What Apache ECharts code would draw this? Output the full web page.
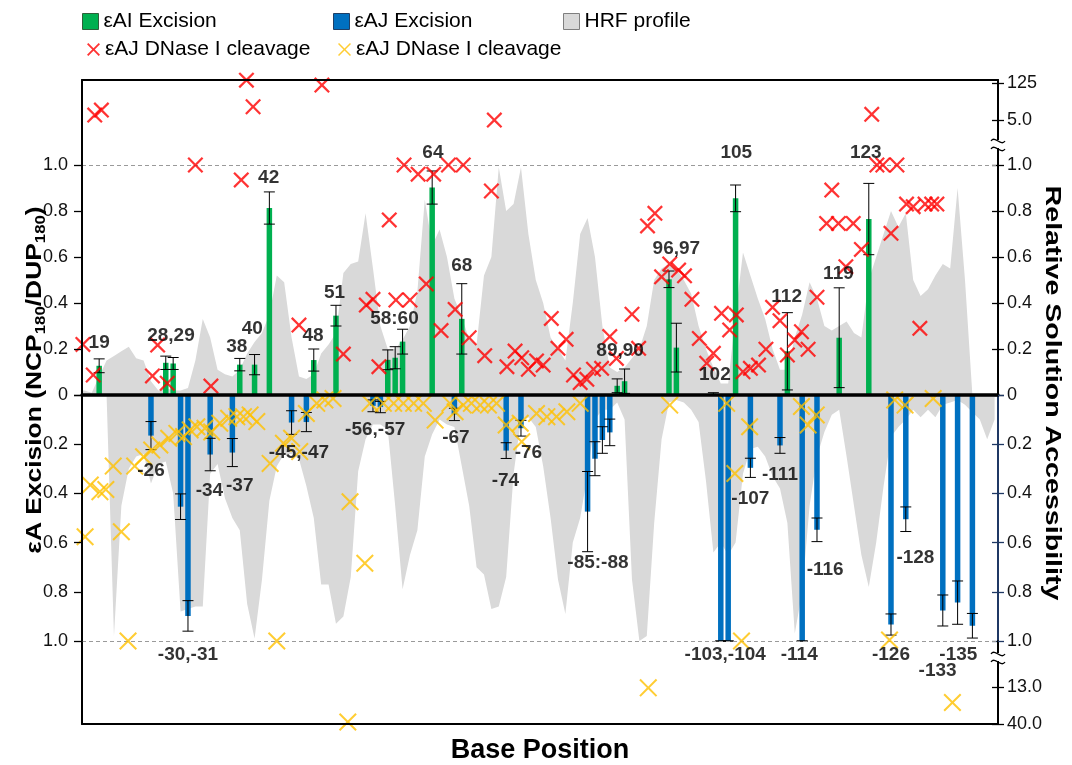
<!DOCTYPE html>
<html>
<head>
<meta charset="utf-8">
<script src="https://cdn.jsdelivr.net/npm/echarts@6/dist/echarts.min.js"></script>
<style>
  html, body { margin: 0; padding: 0; background: #fff; }
  #chart { width: 1072px; height: 765px; }
</style>
</head>
<body>
<div id="chart"></div>
<script>
// ---- εAI excision (upper strand, bars pointing up) ----
const aiPos = [19, 28, 29, 38, 40, 42, 48, 51, 58, 59, 60, 64, 68, 89, 90, 96, 97, 102, 105, 112, 119, 123];
const aiVal = [0.127, 0.14, 0.137, 0.132, 0.132, 0.813, 0.152, 0.345, 0.153, 0.162, 0.232, 0.902, 0.331, 0.04, 0.06, 0.503, 0.206, 0.006, 0.855, 0.19, 0.249, 0.765];
const aiErr = [0.03, 0.029, 0.026, 0.027, 0.044, 0.07, 0.048, 0.045, 0.043, 0.048, 0.054, 0.072, 0.153, 0.03, 0.053, 0.036, 0.106, 0.004, 0.058, 0.168, 0.217, 0.155];

// ---- εAJ excision (lower strand, bars pointing down) ----
const ajPos = [26, 30, 31, 34, 37, 45, 47, 56, 57, 67, 74, 76, 85, 86, 87, 88, 103, 104, 107, 111, 114, 116, 126, 128, 133, 135, 137];
const ajVal = [0.165, 0.454, 0.898, 0.242, 0.234, 0.112, 0.11, 0.044, 0.049, 0.079, 0.226, 0.135, 0.474, 0.259, 0.183, 0.152, 1.0, 1.0, 0.296, 0.205, 1.0, 0.548, 0.933, 0.505, 0.876, 0.844, 0.938];
const ajErr = [0.057, 0.052, 0.062, 0.066, 0.057, 0.048, 0.039, 0.024, 0.023, 0.025, 0.032, 0.032, 0.163, 0.069, 0.054, 0.054, 0, 0, 0.039, 0.032, 0, 0.048, 0.043, 0.05, 0.063, 0.088, 0.05];

// ---- HRF relative solution accessibility, positions 16..140 ----
const hrfStart = 16;
const hrfTop = [
  0.02, 0.02, 0.01, 0.08, 0.15, 0.17, 0.19, 0.21, 0.16, 0.15,
  0.06, 0.02, 0.03, 0.02, 0.02, 0.03, 0.15, 0.33, 0.25, 0.11,
  0.09, 0.08, 0.11, 0.18, 0.23, 0.27, 0.35, 0.52, 0.49, 0.25,
  0.08, 0.07, 0.09, 0.18, 0.22, 0.27, 0.53, 0.57, 0.58, 0.79,
  0.55, 0.3, 0.2, 0.2, 0.24, 0.3, 0.45, 0.85, 0.65, 0.72,
  0.6, 0.42, 0.34, 0.24, 0.22, 0.52, 0.6, 0.99, 0.8, 0.83,
  0.99, 0.7, 0.5, 0.4, 0.25, 0.2, 0.15, 0.4, 0.7, 0.77,
  0.6, 0.3, 0.12, 0.1, 0.12, 0.16, 0.2, 0.3, 0.5, 0.55,
  0.57, 0.55, 0.5, 0.44, 0.3, 0.2, 0.12, 0.05, 0.05, 0.35,
  0.62, 0.52, 0.42, 0.33, 0.2, 0.11, 0.11, 0.25, 0.35, 0.49,
  0.42, 0.3, 0.28, 0.3, 0.32, 0.27, 0.25, 0.5, 0.6, 0.7,
  0.8, 0.73, 0.79, 0.5, 0.43, 0.46, 0.52, 0.57, 0.55, 0.9,
  0.5, 0, 0, 0, 0
];
const hrfBottom = [
  0, 0, 0, 0, 0, 0.98, 0.45, 0.3, 0.25, 0.24,
  0.36, 0.28, 0.27, 0.4, 0.88, 0.87, 0.86, 0.86, 0.32, 0.28,
  0.42, 0.5, 0.55, 0.85, 0.99, 0.75, 0.43, 0.29, 0.24, 0.24,
  0.26, 0.37, 0.5, 0.77, 0.77, 0.93, 0.9, 0.74, 0.31, 0.18,
  0.12, 0.12, 0.14, 0.45, 0.79, 0.65, 0.55, 0.25, 0.16, 0.1,
  0.12, 0.13, 0.29, 0.45, 0.7, 0.73, 0.87, 0.86, 0.74, 0.32,
  0.1, 0.09, 0.13, 0.29, 0.5, 0.75, 0.89, 0.6, 0.5, 0.32,
  0.1, 0.06, 0.06, 0.03, 0.1, 0.75, 1.0, 0.98, 0.52, 0.18,
  0.03, 0.02, 0.03, 0.06, 0.11, 0.35, 0.64, 0.6, 0.65, 0.6,
  0.32, 0.22, 0.21, 0.25, 0.33, 0.38, 0.52, 0.97, 0.8, 0.45,
  0.25, 0.15, 0.08, 0.06, 0.25, 0.45, 0.65, 0.78, 0.6, 0.37,
  0.17, 0.13, 0.1, 0.06, 0.09, 0.06, 0.09, 0.04, 0.03, 0.02,
  0.04, 0.07, 0.1, 0.18, 0.1
];

// ---- DNase I cleavage, upper strand (red) ----
const redPos = [16.8, 18.2, 26.2, 26.9, 28.2, 32.0, 34.1, 38.2, 46.0, 52.0, 55.1, 56.0, 56.8, 58.2, 59.1, 60.2, 61.0, 62.1, 63.2, 64.2,
  65.2, 66.2, 67.1, 68.2, 69.0, 71.1, 72.0, 74.1, 75.2, 76.1, 77.0, 78.1, 79.0, 80.1, 81.0, 82.1, 83.1, 84.0, 84.9, 85.8,
  86.9, 88.0, 88.9, 91.0, 91.9, 93.1, 94.1, 95.0, 96.1, 97.3, 98.1, 99.1, 100.1, 101.1, 102.0, 103.1, 104.2, 105.1, 106.0, 107.0,
  108.1, 109.1, 110.0, 111.0, 112.0, 113.0, 113.9, 114.8, 116.0, 117.3, 118.0, 118.9, 119.9, 120.9, 122.0, 124.1, 124.9, 126.0, 126.8, 128.1,
  129.0, 129.9, 130.6, 131.5, 132.2];
const redVal = [0.22, 0.087, 0.083, 0.217, 0.051, 1.0, 0.039, 0.935, 0.304, 0.178, 0.391, 0.416, 0.123, 0.761, 0.413, 1.0, 0.413, 0.96, 0.483, 0.96,
  0.28, 1.0, 0.372, 1.0, 0.249, 0.171, 0.887, 0.123, 0.191, 0.162, 0.112, 0.148, 0.13, 0.333, 0.203, 0.242, 0.087, 0.054, 0.068, 0.112,
  0.116, 0.254, 0.159, 0.351, 0.203, 0.735, 0.79, 0.514, 0.57, 0.543, 0.518, 0.416, 0.246, 0.138, 0.181, 0.355, 0.283, 0.348, 0.101, 0.116,
  0.13, 0.199, 0.381, 0.323, 0.174, 0.239, 0.275, 0.199, 0.425, 0.746, 0.891, 0.746, 0.558, 0.746, 0.633, 1.0, 1.0, 0.703, 1.0, 0.83,
  0.819, 0.29, 0.83, 0.83, 0.83];
// values beyond the axis break (5.0 .. 125)
const redHighPos = [18.4, 19.3, 38.9, 39.8, 49.1, 72.4, 123.4];
const redHighVal = [7.7, 11.9, 160, 15.9, 105, 5.0, 8.2];

// ---- DNase I cleavage, lower strand (yellow) ----
const yelPos = [17.1, 17.8, 19.1, 19.9, 20.9, 22.0, 22.9, 23.8, 25.0, 26.1, 27.2, 28.4, 29.5, 30.4, 31.3, 32.2, 33.3, 34.2, 35.3, 36.5,
  37.6, 38.5, 39.4, 40.3, 42.1, 43.0, 43.9, 45.0, 46.1, 47.0, 48.4, 49.5, 50.6, 52.9, 54.9, 55.6, 57.4, 58.8, 60.1, 61.5,
  62.8, 64.4, 66.4, 67.1, 68.2, 69.3, 70.5, 71.6, 72.7, 74.0, 75.9, 76.1, 78.1, 79.5, 80.8, 82.2, 84.0, 96.1, 103.8, 104.9,
  105.8, 106.9, 113.9, 114.8, 115.9, 125.8, 126.5, 127.9, 131.7];
const yelVal = [0.576, 0.366, 0.393, 0.384, 0.289, 0.556, 1.0, 0.289, 0.251, 0.224, 0.203, 0.176, 0.156, 0.169, 0.142, 0.129, 0.135, 0.15, 0.115, 0.095,
  0.088, 0.088, 0.081, 0.108, 0.278, 1.0, 0.196, 0.176, 0.23, 0.075, 0.034, 0.02, 0.014, 0.434, 0.684, 0.034, 0.034, 0.034, 0.034, 0.034,
  0.034, 0.102, 0.034, 0.068, 0.041, 0.034, 0.041, 0.041, 0.034, 0.122, 0.115, 0.19, 0.075, 0.088, 0.088, 0.068, 0.034, 0.041, 0.034, 0.319,
  1.0, 0.129, 0.047, 0.122, 0.081, 0.996, 0.02, 0.041, 0.014];
// values beyond the lower axis break (13.0 .. 40.0)
const yelLowPos = [52.6, 93.2, 134.3];
const yelLowVal = [37.7, 13.4, 20.9];

// ---- base-position annotations ----
const topLabelText = ['19', '28,29', '38', '40', '42', '48', '51', '58:60', '64', '68', '89,90', '96,97', '102', '105', '112', '119', '123'];
const topLabelPos = [19.0, 28.7, 37.6, 39.7, 41.9, 47.9, 50.8, 58.9, 64.1, 68.0, 89.4, 97.0, 102.2, 105.1, 111.9, 118.9, 122.6];
const topLabelVal = [0.226, 0.257, 0.21, 0.29, 0.945, 0.257, 0.446, 0.333, 1.052, 0.562, 0.191, 0.635, 0.087, 1.054, 0.428, 0.529, 1.054];
const botLabelText = ['-26', '-30,-31', '-34', '-37', '-45,-47', '-56,-57', '-67', '-74', '-76', '-85:-88', '-103,-104', '-107', '-111', '-114', '-116', '-126', '-128', '-133', '-135'];
const botLabelPos = [26.0, 31.0, 33.9, 38.0, 46.0, 56.3, 67.2, 73.9, 77.0, 86.4, 103.6, 107.0, 111.0, 113.6, 117.1, 126.0, 129.3, 132.3, 135.1];
const botLabelVal = [0.309, 1.054, 0.389, 0.37, 0.233, 0.14, 0.173, 0.348, 0.234, 0.682, 1.054, 0.42, 0.325, 1.054, 0.711, 1.054, 0.661, 1.122, 1.054];

// ---- styling ----
const GREEN = '#00B050', BLUE = '#0070C0', GRAY = '#D9D9D9', RED = '#FF0000', YELLOW = '#FFC000';
const FONT = 'Arial, "Liberation Sans", sans-serif';
const X_RED = 'path://M0,1L1,0L5,4L9,0L10,1L6,5L10,9L9,10L5,6L1,10L0,9L4,5Z';
const X_YEL = 'path://M0,0.8L0.8,0L5,4.2L9.2,0L10,0.8L5.8,5L10,9.2L9.2,10L5,5.8L0.8,10L0,9.2L4.2,5Z';
const X_MIN = 16.68, X_MAX = 140.46;
const NAVY = '#1F3864';

const zip = (xs, ys) => xs.map((x, i) => [x, ys[i]]);
const hrfSeries = arr => arr.map((v, i) => [hrfStart + i, v]);
const errData = (p, v, e) => p.map((x, i) => [x, v[i] - e[i], v[i] + e[i]]);
const labelData = (t, p, v) => t.map((s, i) => ({ name: s, value: [p[i], v[i]] }));

// vertical error bar with caps, drawn in data coordinates
function errorBar(params, api) {
  const n = api.value(0);
  const a = api.coord([n, api.value(1)]);
  const b = api.coord([n, api.value(2)]);
  const hw = 5.5;
  const st = { stroke: '#000', lineWidth: 1 };
  return {
    type: 'group',
    children: [
      { type: 'line', shape: { x1: a[0], y1: a[1], x2: b[0], y2: b[1] }, style: st },
      { type: 'line', shape: { x1: a[0] - hw, y1: a[1], x2: a[0] + hw, y2: a[1] }, style: st },
      { type: 'line', shape: { x1: b[0] - hw, y1: b[1], x2: b[0] + hw, y2: b[1] }, style: st }
    ]
  };
}

const tickLbl = v => (v === 0 ? '0' : v.toFixed(1));
const labelStyle = { fontSize: 18, color: '#111', fontFamily: FONT };
const blackLine = { color: '#000', width: 2 };

function xAx(grid, extra) {
  return Object.assign({
    type: 'value', gridIndex: grid, min: X_MIN, max: X_MAX,
    axisLabel: { show: false }, axisTick: { show: false }, splitLine: { show: false },
    axisLine: { show: false }
  }, extra);
}
function plainY(grid, extra) {
  return Object.assign({
    gridIndex: grid, splitLine: { show: false }, axisTick: { show: false },
    axisLabel: { show: false }, axisLine: { show: false }
  }, extra);
}

const chart = echarts.init(document.getElementById('chart'), null, { renderer: 'canvas' });

const legendBase = {
  orient: 'horizontal', selectedMode: false, itemWidth: 16, itemHeight: 16,
  textStyle: { fontSize: 21, color: '#000', fontFamily: FONT }
};

// right-axis break marks
function breakMark(yc) {
  const st = { stroke: '#000', lineWidth: 1.3, fill: null };
  return [
    { type: 'rect', z: 100, shape: { x: 993, y: yc - 4, width: 10, height: 8 }, style: { fill: '#fff' } },
    { type: 'bezierCurve', z: 101, shape: { x1: 991, y1: yc - 3, cpx1: 995, cpy1: yc - 9, cpx2: 1001, cpy2: yc + 3, x2: 1005, y2: yc - 3 }, style: st },
    { type: 'bezierCurve', z: 101, shape: { x1: 991, y1: yc + 5, cpx1: 995, cpy1: yc - 1, cpx2: 1001, cpy2: yc + 11, x2: 1005, y2: yc + 5 }, style: st }
  ];
}

const annotLabel = {
  show: true, position: 'inside', formatter: '{b}', fontSize: 19, fontWeight: 'bold',
  color: '#000', textBorderWidth: 0, fontFamily: FONT
};

const option = {
  animation: false,
  backgroundColor: '#fff',
  textStyle: { fontFamily: FONT },
  legend: [
    Object.assign({}, legendBase, { left: 77, top: 6, data: [{ name: 'εAI Excision', icon: 'rect', itemStyle: { color: GREEN, borderColor: '#2F5F3A', borderWidth: 1 } }] }),
    Object.assign({}, legendBase, { left: 328, top: 6, data: [{ name: 'εAJ Excision', icon: 'rect', itemStyle: { color: BLUE, borderColor: '#1F3F66', borderWidth: 1 } }] }),
    Object.assign({}, legendBase, { left: 558, top: 6, data: [{ name: 'HRF profile', icon: 'rect', itemStyle: { color: GRAY, borderColor: '#7F7F7F', borderWidth: 1 } }] }),
    Object.assign({}, legendBase, { left: 82, top: 34, itemWidth: 13, itemHeight: 13, data: [{ name: 'εAJ DNase I cleavage', icon: X_RED, itemStyle: { color: RED } }] }),
    Object.assign({}, legendBase, { left: 333, top: 34, itemWidth: 13, itemHeight: 13, data: [{ name: 'εAJ DNase I cleavage', icon: X_YEL, itemStyle: { color: YELLOW } }] })
  ],
  grid: [
    { left: 82, right: 74, top: 80, height: 85 },
    { left: 82, right: 74, top: 165, height: 230 },
    { left: 82, right: 74, top: 395, height: 246 },
    { left: 82, right: 74, top: 641, height: 86 }
  ],
  xAxis: [
    xAx(0, { position: 'top', z: 10, axisLine: { show: true, onZero: false, lineStyle: blackLine } }),
    xAx(1, { position: 'bottom', z: 10, axisLine: { show: true, onZero: false, lineStyle: { color: '#000', width: 3.5 } } }),
    xAx(2, {}),
    xAx(3, {
      position: 'bottom', z: 10, axisLine: { show: true, onZero: false, lineStyle: blackLine },
      name: 'Base Position', nameLocation: 'middle', nameGap: 13,
      nameTextStyle: { fontSize: 27, fontWeight: 'bold', color: '#000', fontFamily: FONT, verticalAlign: 'top' }
    })
  ],
  yAxis: [
    // 0: upper break, left frame
    plainY(0, { type: 'log', min: 0.1, max: 163, position: 'left', axisLine: { show: true, lineStyle: blackLine } }),
    // 1: upper break, right scale
    plainY(0, {
      type: 'log', min: 0.1, max: 163, position: 'right', z: 10,
      axisLine: { show: true, lineStyle: blackLine },
      axisTick: { show: true, length: 6, customValues: [5, 125], lineStyle: { color: '#000', width: 1.3 } },
      axisLabel: { show: true, customValues: [5, 125], margin: 9, formatter: v => (v >= 100 ? String(Math.round(v)) : v.toFixed(1)), ...labelStyle }
    }),
    // 2: upper main, left scale
    plainY(1, {
      type: 'value', min: 0, max: 1, interval: 0.2, position: 'left', z: 10,
      axisLine: { show: true, lineStyle: blackLine },
      axisTick: { show: true, length: 8, lineStyle: { color: '#000', width: 1.3 } },
      axisLabel: { show: true, margin: 14, formatter: tickLbl, ...labelStyle }
    }),
    // 3: upper main, right scale
    plainY(1, {
      type: 'value', min: 0, max: 1, interval: 0.2, position: 'right', z: 10,
      axisLine: { show: true, lineStyle: blackLine },
      axisTick: { show: true, length: 6, lineStyle: { color: '#000', width: 1.3 } },
      axisLabel: { show: true, margin: 9, formatter: tickLbl, ...labelStyle }
    }),
    // 4: lower main, left scale
    plainY(2, {
      type: 'value', min: 0, max: 1, interval: 0.2, inverse: true, position: 'left', z: 10,
      axisLine: { show: true, lineStyle: blackLine },
      axisTick: { show: true, length: 8, lineStyle: { color: '#000', width: 1.3 } },
      axisLabel: { show: true, margin: 14, formatter: v => (v === 0 ? '' : tickLbl(v)), ...labelStyle }
    }),
    // 5: lower main, right scale
    plainY(2, {
      type: 'value', min: 0, max: 1, interval: 0.2, inverse: true, position: 'right', z: 10,
      axisLine: { show: true, lineStyle: { color: NAVY, width: 2 } },
      axisTick: { show: true, length: 6, lineStyle: { color: NAVY, width: 1.3 } },
      axisLabel: { show: true, margin: 9, formatter: v => (v === 0 ? '' : tickLbl(v)), ...labelStyle }
    }),
    // 6: lower break, left frame
    plainY(3, { type: 'log', min: 3.244, max: 40, inverse: true, position: 'left', axisLine: { show: true, lineStyle: blackLine } }),
    // 7: lower break, right scale
    plainY(3, {
      type: 'log', min: 3.244, max: 40, inverse: true, position: 'right', z: 10,
      axisLine: { show: true, lineStyle: blackLine },
      axisTick: { show: true, length: 6, customValues: [13, 40], lineStyle: { color: '#000', width: 1.3 } },
      axisLabel: { show: true, customValues: [13, 40], margin: 9, formatter: v => v.toFixed(1), ...labelStyle }
    }),
    // 8-11: inner halves of the right-hand ticks
    plainY(0, { type: 'log', min: 0.1, max: 163, position: 'right', axisTick: { show: true, inside: true, length: 6, customValues: [5, 125], lineStyle: { color: '#000', width: 1.3 } } }),
    plainY(1, { type: 'value', min: 0, max: 1, interval: 0.2, position: 'right', axisTick: { show: true, inside: true, length: 6, lineStyle: { color: '#000', width: 1.3 } } }),
    plainY(2, { type: 'value', min: 0, max: 1, interval: 0.2, inverse: true, position: 'right', axisTick: { show: true, inside: true, length: 6, lineStyle: { color: NAVY, width: 1.3 } } }),
    plainY(3, { type: 'log', min: 3.244, max: 40, inverse: true, position: 'right', axisTick: { show: true, inside: true, length: 6, customValues: [13, 40], lineStyle: { color: '#000', width: 1.3 } } })
  ],
  series: [
    {
      name: 'HRF profile', type: 'line', xAxisIndex: 1, yAxisIndex: 3, z: 1,
      data: hrfSeries(hrfTop), symbol: 'none', silent: true,
      lineStyle: { width: 0 }, areaStyle: { color: GRAY, opacity: 1 }, itemStyle: { color: GRAY },
      markLine: { silent: true, symbol: 'none', label: { show: false }, lineStyle: { color: '#9A9A9A', type: [4, 3], width: 1 }, data: [{ yAxis: 1 }] }
    },
    {
      name: 'HRF profile', type: 'line', xAxisIndex: 2, yAxisIndex: 5, z: 1,
      data: hrfSeries(hrfBottom), symbol: 'none', silent: true,
      lineStyle: { width: 0 }, areaStyle: { color: GRAY, opacity: 1 }, itemStyle: { color: GRAY },
      markLine: { silent: true, symbol: 'none', label: { show: false }, lineStyle: { color: '#9A9A9A', type: [4, 3], width: 1 }, data: [{ yAxis: 1 }] }
    },
    {
      name: 'εAI Excision', type: 'bar', xAxisIndex: 1, yAxisIndex: 2, z: 3,
      barWidth: 5.5, data: zip(aiPos, aiVal), itemStyle: { color: GREEN }
    },
    {
      name: 'εAJ Excision', type: 'bar', xAxisIndex: 2, yAxisIndex: 4, z: 3,
      barWidth: 5.5, data: zip(ajPos, ajVal), itemStyle: { color: BLUE }
    },
    {
      type: 'custom', xAxisIndex: 1, yAxisIndex: 2, z: 4, silent: true, clip: false,
      renderItem: errorBar, encode: { x: 0, y: [1, 2] }, data: errData(aiPos, aiVal, aiErr)
    },
    {
      type: 'custom', xAxisIndex: 2, yAxisIndex: 4, z: 4, silent: true, clip: false,
      renderItem: errorBar, encode: { x: 0, y: [1, 2] }, data: errData(ajPos, ajVal, ajErr)
    },
    {
      name: 'εAJ DNase I cleavage', type: 'scatter', xAxisIndex: 2, yAxisIndex: 5, z: 5, clip: false,
      symbol: X_YEL, symbolSize: 18, itemStyle: { color: YELLOW, opacity: 0.8 }, data: zip(yelPos, yelVal)
    },
    {
      name: 'εAJ DNase I cleavage', type: 'scatter', xAxisIndex: 3, yAxisIndex: 7, z: 5, clip: false,
      symbol: X_YEL, symbolSize: 18, itemStyle: { color: YELLOW, opacity: 0.8 }, data: zip(yelLowPos, yelLowVal)
    },
    {
      name: 'εAJ DNase I cleavage', type: 'scatter', xAxisIndex: 1, yAxisIndex: 3, z: 6, clip: false,
      symbol: X_RED, symbolSize: 16, itemStyle: { color: RED }, data: zip(redPos, redVal)
    },
    {
      name: 'εAJ DNase I cleavage', type: 'scatter', xAxisIndex: 0, yAxisIndex: 1, z: 6, clip: false,
      symbol: X_RED, symbolSize: 16, itemStyle: { color: RED }, data: zip(redHighPos, redHighVal)
    },
    {
      type: 'scatter', xAxisIndex: 1, yAxisIndex: 2, z: 8, clip: false, silent: true,
      symbolSize: 1, itemStyle: { color: 'rgba(0,0,0,0)' }, label: annotLabel,
      data: labelData(topLabelText, topLabelPos, topLabelVal)
    },
    {
      type: 'scatter', xAxisIndex: 2, yAxisIndex: 4, z: 8, clip: false, silent: true,
      symbolSize: 1, itemStyle: { color: 'rgba(0,0,0,0)' }, label: annotLabel,
      data: labelData(botLabelText, botLabelPos, botLabelVal)
    }
  ],
  graphic: [
    {
      type: 'text', x: 35, y: 380, rotation: Math.PI / 2, scaleX: 1.2, z: 50,
      style: {
        text: '{m|εA Excision (NCP}{s|180}{m|/DUP}{s|180}{m|)}',
        textAlign: 'center', textVerticalAlign: 'middle',
        rich: {
          m: { fontSize: 22, fontWeight: 'bold', fontFamily: FONT, fill: '#000', lineHeight: 26 },
          s: { fontSize: 14, fontWeight: 'bold', fontFamily: FONT, fill: '#000', lineHeight: 26, verticalAlign: 'bottom', padding: [10, 0, 0, 0] }
        }
      }
    },
    {
      type: 'text', x: 1052, y: 393, rotation: -Math.PI / 2, scaleX: 1.3, z: 50,
      style: {
        text: 'Relative Solution Accessibility', textAlign: 'center', textVerticalAlign: 'middle',
        font: 'bold 22px ' + FONT, fill: '#000'
      }
    }
  ].concat(breakMark(144), breakMark(657))
};

chart.setOption(option);
</script>
</body>
</html>
